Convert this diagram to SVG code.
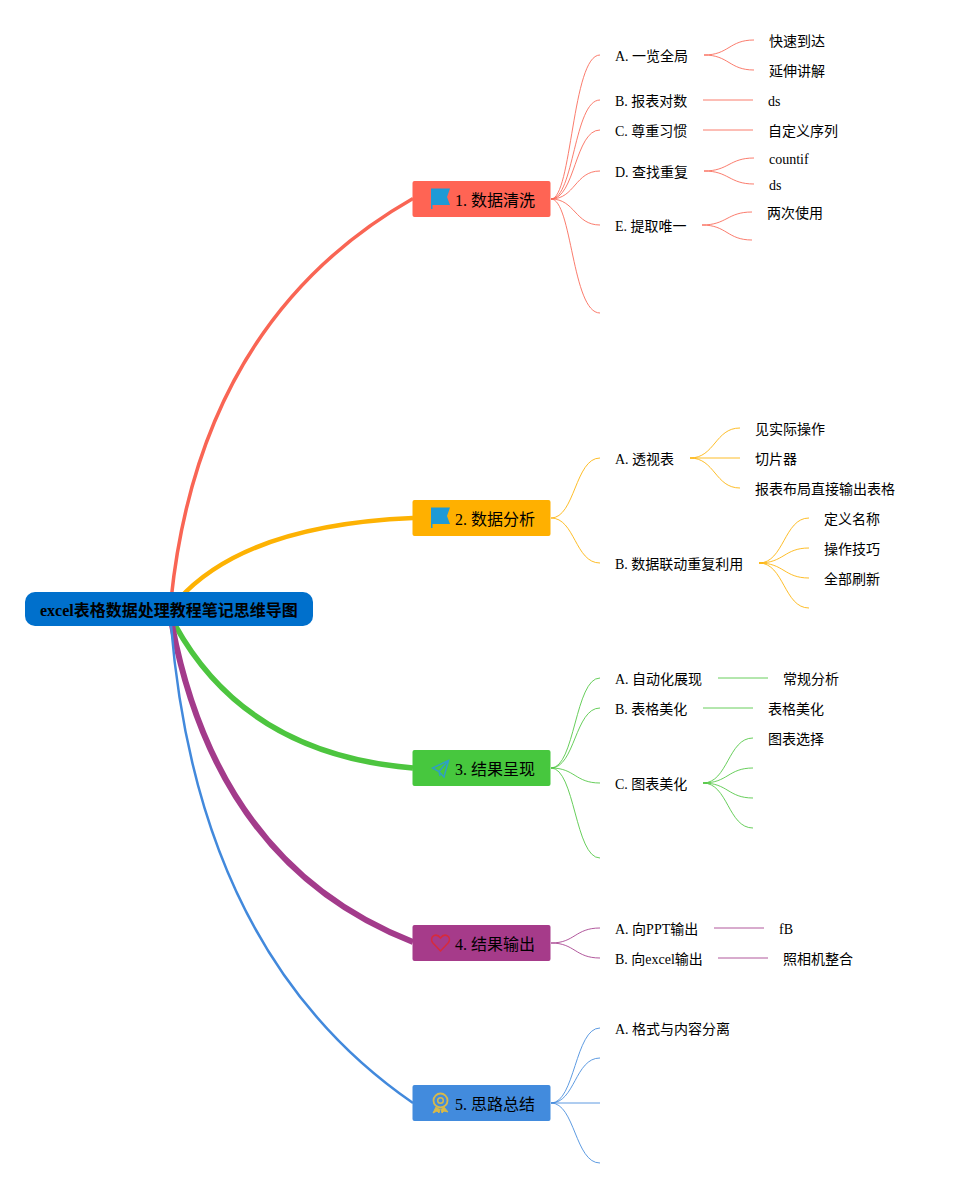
<svg xmlns="http://www.w3.org/2000/svg" width="955" height="1188" viewBox="0 0 955 1188">
<style>
text{font-family:"Liberation Serif","Noto Sans CJK SC",sans-serif;fill:#000}
.t{font-size:14px}
.m{font-size:16px}
.r{font-size:16px;font-weight:bold}
.c{fill:none;stroke-width:1;opacity:.85}
.red{stroke:#f96554}.yel{stroke:#fdb203}.grn{stroke:#4dc53f}.pur{stroke:#a33b8b}.blu{stroke:#4289dc}
.main{fill:none}
</style>
<rect width="955" height="1188" fill="#fff"/>
<g id="connectors">
<path class="main red" stroke-width="3.500" d="M171 600Q200 320 413 198.500"/>
<path class="main yel" stroke-width="4.500" d="M178 600Q245 525 413 518"/>
<path class="main grn" stroke-width="5.500" d="M175 625Q246 754 413 768"/>
<path class="main pur" stroke-width="6" d="M172 625Q218 866 413 942"/>
<path class="main blu" stroke-width="2.500" d="M171 625Q198 955 413 1103"/>
<g>
<path class="c red" d="M551 199C572 199 572 55 600 55"/>
<path class="c red" d="M551 199C574 199 574 100 600 100"/>
<path class="c red" d="M551 199C575 199 575 130 600 130"/>
<path class="c red" d="M551 199C575 199 575 171 600 171"/>
<path class="c red" d="M551 199C575 199 575 225 600 225"/>
<path class="c red" d="M551 199C572 199 572 313 600 313"/>
<path class="c red" d="M704 55C729 55 729 40 754 40"/>
<path class="c red" d="M704 55C729 55 729 70 754 70"/>
<path class="c red" d="M703 100H753"/>
<path class="c red" d="M703 130H753"/>
<path class="c red" d="M704 171C729 171 729 158 754 158"/>
<path class="c red" d="M704 171C729 171 729 184 754 184"/>
<path class="c red" d="M702 225C727 225 727 212 752 212"/>
<path class="c red" d="M702 225C727 225 727 240 752 240"/>
</g>
<g>
<path class="c yel" d="M551 518C575 518 575 458 600 458"/>
<path class="c yel" d="M551 518C575 518 575 563 600 563"/>
<path class="c yel" d="M690 458C715 458 715 428 740 428"/>
<path class="c yel" d="M690 458H740"/>
<path class="c yel" d="M690 458C715 458 715 488 740 488"/>
<path class="c yel" d="M759 563C784 563 784 518 809 518"/>
<path class="c yel" d="M759 563C784 563 784 548 809 548"/>
<path class="c yel" d="M759 563C784 563 784 578 809 578"/>
<path class="c yel" d="M759 563C784 563 784 608 809 608"/>
</g>
<g>
<path class="c grn" d="M551 768C575 768 575 678 600 678"/>
<path class="c grn" d="M551 768C575 768 575 708 600 708"/>
<path class="c grn" d="M551 768C575 768 575 783 600 783"/>
<path class="c grn" d="M551 768C575 768 575 858 600 858"/>
<path class="c grn" d="M718 678H768"/>
<path class="c grn" d="M703 708H753"/>
<path class="c grn" d="M703 783C728 783 728 738 753 738"/>
<path class="c grn" d="M703 783C728 783 728 768 753 768"/>
<path class="c grn" d="M703 783C728 783 728 798 753 798"/>
<path class="c grn" d="M703 783C728 783 728 828 753 828"/>
</g>
<g>
<path class="c pur" d="M551 943C575 943 575 928 600 928"/>
<path class="c pur" d="M551 943C575 943 575 958 600 958"/>
<path class="c pur" d="M714 928H764"/>
<path class="c pur" d="M718 958H768"/>
</g>
<g>
<path class="c blu" d="M551 1103C575 1103 575 1028 600 1028"/>
<path class="c blu" d="M551 1103C575 1103 575 1058 600 1058"/>
<path class="c blu" d="M551 1103H600"/>
<path class="c blu" d="M551 1103C575 1103 575 1163 600 1163"/>
</g>
</g>
<g id="root"><rect x="25" y="592" width="288" height="34" rx="10" fill="#0070cc"/><text class="r" x="40" y="615.500">excel表格数据处理教程笔记思维导图</text></g>
<g id="n1"><rect x="412.500" y="181" width="138" height="36" rx="2" fill="#ff6454"/>
<path d="M431 188.500H450L447 197L450 205H432.500V209H431Z" fill="#1e9ad6"/>
<text class="m" x="455" y="205.500">1. 数据清洗</text></g>
<g id="n2"><rect x="412.500" y="500" width="138" height="36" rx="2" fill="#ffb000"/>
<path d="M431 507.500H450L447 516L450 524H432.500V528H431Z" fill="#1e9ad6"/>
<text class="m" x="455" y="524.500">2. 数据分析</text></g>
<g id="n3"><rect x="412.500" y="750" width="138" height="36" rx="2" fill="#47c73e"/>
<path d="M448.500 760.500L432.500 768L439 771.500L444 777ZM448.500 760.500L439 771.500L440 776" fill="none" stroke="#2f9fc4" stroke-width="1.500"/>
<text class="m" x="455" y="774.500">3. 结果呈现</text></g>
<g id="n4"><rect x="412.500" y="925" width="138" height="36" rx="2" fill="#a63b8a"/>
<path d="M440.500 951L432.500 942.500C429 937 436 932 440.500 938C445 932 452 937 448.500 942.500Z" fill="none" stroke="#d72b3c" stroke-width="1.500"/>
<text class="m" x="455" y="949.500">4. 结果输出</text></g>
<g id="n5"><rect x="412.500" y="1085" width="138" height="36" rx="2" fill="#428bdd"/>
<path d="M436 1107L433 1113L437 1111L439 1113L440 1109M444 1107L448 1112L444 1111L442 1113L441 1109" fill="#d7b94a" stroke="#d7b94a"/>
<circle cx="440.500" cy="1100.500" r="7" fill="none" stroke="#d7b94a" stroke-width="1.800"/>
<circle cx="440.500" cy="1100.500" r="2.800" fill="none" stroke="#d7b94a" stroke-width="1.500"/>
<text class="m" x="455" y="1109.500">5. 思路总结</text></g>
<g id="labels">
<text class="t" x="615" y="61">A. 一览全局</text>
<text class="t" x="769" y="46">快速到达</text>
<text class="t" x="769" y="76">延伸讲解</text>
<text class="t" x="615" y="106">B. 报表对数</text>
<text class="t" x="768" y="106">ds</text>
<text class="t" x="615" y="136">C. 尊重习惯</text>
<text class="t" x="768" y="136">自定义序列</text>
<text class="t" x="615" y="177">D. 查找重复</text>
<text class="t" x="769" y="164">countif</text>
<text class="t" x="769" y="190">ds</text>
<text class="t" x="615" y="231">E. 提取唯一</text>
<text class="t" x="767" y="218">两次使用</text>
<text class="t" x="615" y="464">A. 透视表</text>
<text class="t" x="755" y="434">见实际操作</text>
<text class="t" x="755" y="464">切片器</text>
<text class="t" x="755" y="494">报表布局直接输出表格</text>
<text class="t" x="615" y="569">B. 数据联动重复利用</text>
<text class="t" x="824" y="524">定义名称</text>
<text class="t" x="824" y="554">操作技巧</text>
<text class="t" x="824" y="584">全部刷新</text>
<text class="t" x="615" y="684">A. 自动化展现</text>
<text class="t" x="783" y="684">常规分析</text>
<text class="t" x="615" y="714">B. 表格美化</text>
<text class="t" x="768" y="714">表格美化</text>
<text class="t" x="615" y="789">C. 图表美化</text>
<text class="t" x="768" y="744">图表选择</text>
<text class="t" x="615" y="934">A. 向PPT输出</text>
<text class="t" x="779" y="934">fB</text>
<text class="t" x="615" y="964">B. 向excel输出</text>
<text class="t" x="783" y="964">照相机整合</text>
<text class="t" x="615" y="1034">A. 格式与内容分离</text>
</g>
</svg>
